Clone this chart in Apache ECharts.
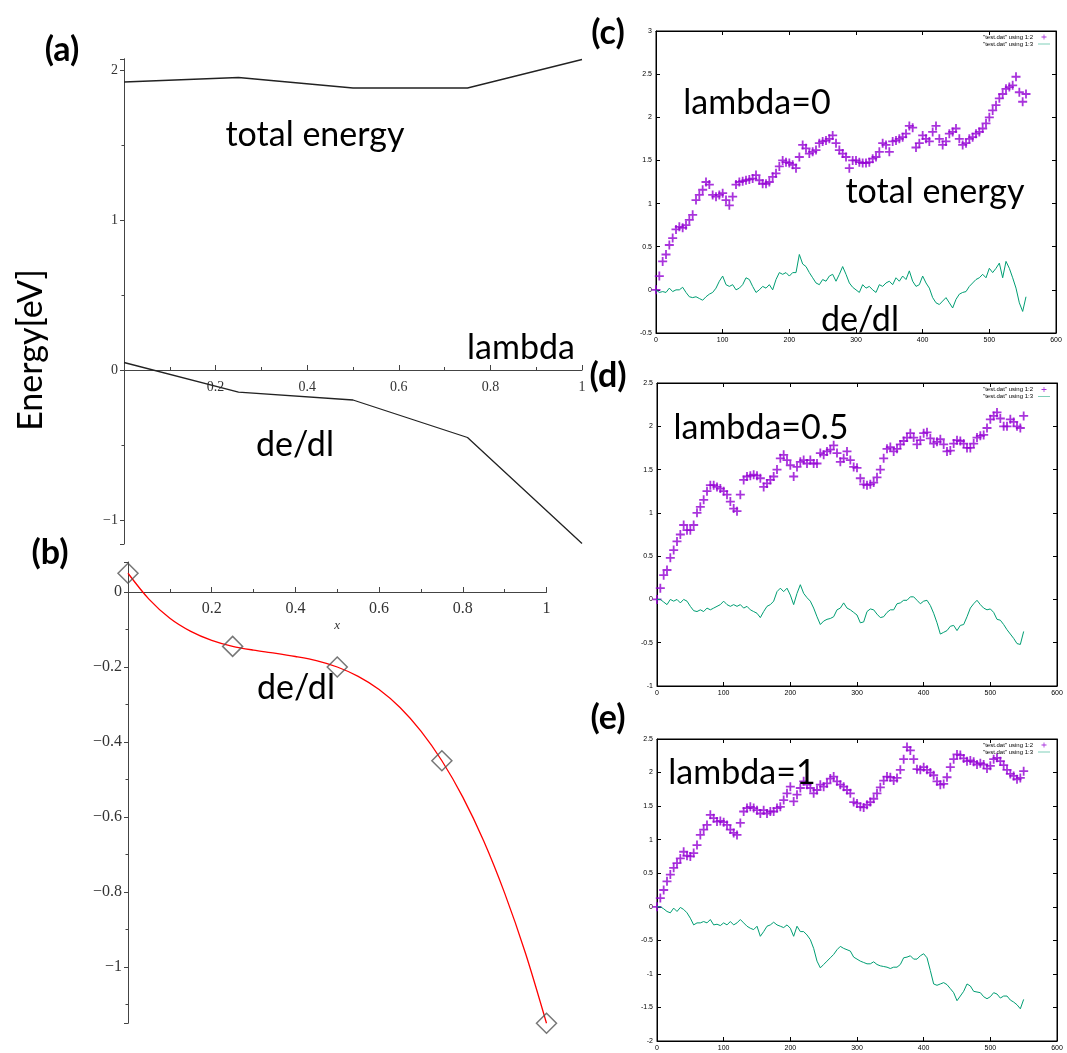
<!DOCTYPE html>
<html><head><meta charset="utf-8">
<script src="https://cdn.jsdelivr.net/npm/echarts@6/dist/echarts.min.js"></script>
<style>html,body{margin:0;padding:0;background:#fff}#c{width:1067px;height:1053px}</style>
</head><body><div id="c"></div>
<script>
// ---------- panel (a) ----------
const lambdaA = [0, 0.25, 0.5, 0.75, 1];
const totalEnergyA = [1.92, 1.95, 1.88, 1.88, 2.07];
const dedlA = [0.05, -0.147, -0.2, -0.45, -1.157];
// ---------- panel (b) ----------
const lambdaB = [0, 0.25, 0.5, 0.75, 1];
const dedlPointsB = [0.05, -0.145, -0.2, -0.45, -1.15];
const fitXB = [0,0.05,0.1,0.15,0.2,0.25,0.3,0.35,0.4,0.45,0.5,0.55,0.6,0.65,0.7,0.75,0.8,0.85,0.9,0.95,1];
const fitYB = [0.05,-0.019,-0.07,-0.105,-0.129,-0.145,-0.155,-0.163,-0.172,-0.183,-0.2,-0.225,-0.26,-0.308,-0.371,-0.45,-0.547,-0.664,-0.803,-0.964,-1.15];
// ---------- panels (c)(d)(e) ----------
const stepC = [0,5,10,15,20,25,30,35,40,45,50,55,60,65,70,75,80,85,90,95,100,105,110,115,120,125,130,135,140,145,150,155,160,165,170,175,180,185,190,195,200,205,210,215,220,225,230,235,240,245,250,255,260,265,270,275,280,285,290,295,300,305,310,315,320,325,330,335,340,345,350,355,360,365,370,375,380,385,390,395,400,405,410,415,420,425,430,435,440,445,450,455,460,465,470,475,480,485,490,495,500,505,510,515,520,525,530,535,540,545,550,555];
const totalC = [0.0,0.16,0.33,0.41,0.52,0.6,0.7,0.73,0.72,0.75,
  0.81,0.87,1.04,1.1,1.16,1.25,1.22,1.1,1.08,1.1,
  1.12,1.04,0.98,1.08,1.22,1.25,1.26,1.27,1.28,1.29,
  1.33,1.27,1.23,1.23,1.25,1.31,1.35,1.43,1.5,1.48,
  1.47,1.45,1.41,1.54,1.68,1.64,1.58,1.6,1.62,1.7,
  1.72,1.73,1.75,1.79,1.7,1.62,1.58,1.54,1.41,1.5,
  1.5,1.48,1.47,1.47,1.48,1.52,1.54,1.6,1.7,1.68,
  1.6,1.72,1.73,1.75,1.77,1.81,1.9,1.88,1.65,1.7,
  1.79,1.75,1.72,1.83,1.9,1.75,1.68,1.72,1.81,1.83,
  1.87,1.75,1.68,1.7,1.75,1.77,1.81,1.83,1.87,1.93,
  2.0,2.08,2.14,2.22,2.27,2.33,2.35,2.37,2.47,2.29,
  2.18,2.27];
const dedlC = [0,-0.03,-0.02,-0.03,0.02,-0.02,0,0,0.03,-0.03,
  -0.08,-0.09,-0.08,-0.1,-0.12,-0.08,-0.05,-0.03,0.02,0.1,
  0.16,0.06,0.04,0.06,0,0.02,0.06,0.14,0.12,0.04,
  -0.03,0,0.04,0.02,0.06,0,0.12,0.2,0.18,0.2,
  0.16,0.2,0.2,0.41,0.3,0.27,0.2,0.14,0.08,0.06,
  0.12,0.1,0.16,0.18,0.1,0.18,0.27,0.18,0.08,0.03,
  0,-0.03,0.06,0.02,0.04,0,-0.03,0.06,0.04,0.08,
  0.1,0.06,0.14,0.1,0.16,0.12,0.22,0.1,0.04,0.06,
  0.16,0.08,0.02,-0.09,-0.15,-0.17,-0.13,-0.09,-0.15,-0.21,
  -0.11,-0.05,-0.03,-0.02,0.04,0.08,0.12,0.14,0.18,0.14,
  0.25,0.2,0.25,0.31,0.14,0.33,0.25,0.14,0.02,-0.15,
  -0.25,-0.08];
const stepD = [0,5,10,15,20,25,30,35,40,45,50,55,60,65,70,75,80,85,90,95,100,105,110,115,120,125,130,135,140,145,150,155,160,165,170,175,180,185,190,195,200,205,210,215,220,225,230,235,240,245,250,255,260,265,270,275,280,285,290,295,300,305,310,315,320,325,330,335,340,345,350,355,360,365,370,375,380,385,390,395,400,405,410,415,420,425,430,435,440,445,450,455,460,465,470,475,480,485,490,495,500,505,510,515,520,525,530,535,540,545,550];
const totalD = [0,0.13,0.28,0.34,0.48,0.57,0.67,0.75,0.86,0.8,
  0.8,0.86,1.0,1.07,1.15,1.25,1.32,1.32,1.3,1.28,
  1.25,1.21,1.13,1.05,1.02,1.21,1.38,1.42,1.43,1.44,
  1.43,1.4,1.3,1.34,1.38,1.42,1.5,1.63,1.67,1.61,
  1.55,1.42,1.53,1.59,1.61,1.57,1.61,1.57,1.57,1.69,
  1.67,1.71,1.73,1.78,1.69,1.59,1.63,1.71,1.61,1.53,
  1.52,1.4,1.33,1.32,1.33,1.35,1.41,1.5,1.63,1.74,
  1.76,1.71,1.74,1.79,1.83,1.87,1.92,1.87,1.79,1.84,
  1.92,1.93,1.86,1.8,1.82,1.85,1.79,1.71,1.72,1.8,
  1.84,1.83,1.8,1.75,1.75,1.8,1.87,1.89,1.9,1.98,
  2.08,2.12,2.16,2.09,2.0,2.0,2.08,2.05,2.0,1.98,
  2.12];
const dedlD = [0,0,-0.03,-0.06,0,-0.02,0,-0.04,0,-0.02,
  -0.08,-0.13,-0.14,-0.12,-0.14,-0.1,-0.12,-0.1,-0.08,-0.06,
  -0.02,-0.06,-0.08,-0.06,-0.08,-0.06,-0.1,-0.08,-0.12,-0.14,
  -0.16,-0.21,-0.14,-0.08,-0.06,-0.02,0.09,0.13,0.09,0.13,
  0.05,-0.06,0.07,0.17,0.07,0.02,-0.02,-0.1,-0.2,-0.29,
  -0.25,-0.23,-0.22,-0.2,-0.12,-0.1,-0.04,-0.1,-0.12,-0.15,
  -0.18,-0.27,-0.26,-0.14,-0.11,-0.12,-0.17,-0.21,-0.2,-0.15,
  -0.12,-0.12,-0.05,-0.04,-0.01,-0.01,0.03,0.03,-0.01,-0.05,
  -0.02,-0.01,-0.07,-0.16,-0.27,-0.4,-0.38,-0.36,-0.31,-0.3,
  -0.36,-0.3,-0.29,-0.2,-0.1,-0.05,-0.01,-0.06,-0.1,-0.12,
  -0.11,-0.15,-0.23,-0.24,-0.29,-0.35,-0.4,-0.45,-0.51,-0.52,
  -0.37];
const stepE = [0,5,10,15,20,25,30,35,40,45,50,55,60,65,70,75,80,85,90,95,100,105,110,115,120,125,130,135,140,145,150,155,160,165,170,175,180,185,190,195,200,205,210,215,220,225,230,235,240,245,250,255,260,265,270,275,280,285,290,295,300,305,310,315,320,325,330,335,340,345,350,355,360,365,370,375,380,385,390,395,400,405,410,415,420,425,430,435,440,445,450,455,460,465,470,475,480,485,490,495,500,505,510,515,520,525,530,535,540,545,550];
const totalE = [0,0.13,0.25,0.38,0.48,0.58,0.65,0.72,0.82,0.76,
  0.75,0.8,0.92,1.07,1.15,1.22,1.37,1.32,1.27,1.28,
  1.26,1.22,1.15,1.1,1.07,1.25,1.42,1.47,1.49,1.47,
  1.44,1.39,1.44,1.39,1.42,1.42,1.47,1.49,1.59,1.69,
  1.79,1.57,1.67,1.77,1.87,1.82,1.77,1.69,1.74,1.82,
  1.79,1.84,1.91,1.94,1.87,1.82,1.79,1.74,1.69,1.56,
  1.54,1.49,1.48,1.52,1.56,1.61,1.69,1.78,1.88,1.94,
  1.93,1.88,1.92,2.04,2.2,2.38,2.33,2.2,2.05,2.04,
  2.08,2.04,2.0,1.96,1.87,1.82,1.83,1.93,2.08,2.2,
  2.27,2.26,2.21,2.17,2.18,2.16,2.12,2.14,2.12,2.06,
  2.1,2.2,2.22,2.17,2.11,2.04,1.98,1.95,1.9,1.92,
  2.02];
const dedlE = [0,0,-0.03,-0.07,-0.09,-0.02,-0.07,-0.01,-0.04,-0.09,
  -0.17,-0.27,-0.24,-0.24,-0.22,-0.24,-0.19,-0.27,-0.26,-0.28,
  -0.24,-0.27,-0.22,-0.27,-0.24,-0.19,-0.24,-0.29,-0.32,-0.34,
  -0.29,-0.44,-0.37,-0.29,-0.27,-0.23,-0.27,-0.29,-0.31,-0.27,
  -0.32,-0.44,-0.29,-0.37,-0.37,-0.42,-0.49,-0.62,-0.81,-0.91,
  -0.86,-0.81,-0.76,-0.71,-0.64,-0.59,-0.62,-0.64,-0.66,-0.75,
  -0.78,-0.81,-0.83,-0.85,-0.85,-0.82,-0.86,-0.88,-0.89,-0.9,
  -0.92,-0.9,-0.9,-0.86,-0.76,-0.75,-0.73,-0.78,-0.78,-0.73,
  -0.7,-0.76,-0.95,-1.15,-1.17,-1.15,-1.13,-1.16,-1.22,-1.28,
  -1.4,-1.33,-1.26,-1.15,-1.18,-1.26,-1.27,-1.28,-1.34,-1.37,
  -1.34,-1.28,-1.3,-1.36,-1.33,-1.33,-1.39,-1.42,-1.46,-1.52,
  -1.38];
const N12 = '"test.dat" using 1:2';
const N13 = '"test.dat" using 1:3';

const pair = (xs, ys) => ys.map((v, i) => [xs[i], v]);
const serif = 'Liberation Serif';
const sans = 'Liberation Sans';
const maple = '#444';
const minus = v => { const r = Math.round(v * 1000) / 1000; return r < 0 ? '\u2212' + Math.abs(r) : String(r); };
const plusSym = 'path://M4,0H6V4H10V6H6V10H4V6H0V4H4Z';
const plusLegend = 'path://M0,2.5L0.01,2.5M12,2.5L11.99,2.5M5.6,0H6.4V2.1H8.5V2.9H6.4V5H5.6V2.9H3.5V2.1H5.6Z';
const lineLegend = 'path://M0,0L0.01,0M0,5L0.01,5M0,2.2H12V2.8H0Z';

function mapleX(grid, fs, margin, offset, extra) {
  return Object.assign({
    gridIndex: grid, type: 'value', min: 0, max: 1, interval: 0.2, offset: offset,
    axisLine: { show: true, onZero: false, lineStyle: { color: maple, width: 1 } },
    axisTick: { show: true, inside: true, length: 5, lineStyle: { color: maple } },
    minorTick: { show: true, splitNumber: 2, length: 3, lineStyle: { color: maple } },
    splitLine: { show: false },
    axisLabel: { formatter: v => v === 0 ? '' : minus(v), margin: margin, fontFamily: serif, fontSize: fs, color: '#333' }
  }, extra || {});
}
function mapleY(grid, min, max, split, step, fs) {
  return {
    gridIndex: grid, type: 'value', min: min, max: max, splitNumber: split,
    axisLine: { show: true, onZero: false, lineStyle: { color: maple, width: 1 } },
    axisTick: { show: true, inside: false, length: 4, lineStyle: { color: maple } },
    minorTick: { show: true, splitNumber: 2, length: 2.5, lineStyle: { color: maple } },
    splitLine: { show: false },
    axisLabel: { margin: 6, fontFamily: serif, fontSize: fs, color: '#333',
      formatter: v => { const k = v / step; return Math.abs(k - Math.round(k)) < 1e-6 ? minus(v) : ''; } }
  };
}
function gx(grid, pos, labels) {
  return { gridIndex: grid, type: 'value', min: 0, max: 600, interval: 100, position: pos,
    axisLine: { show: true, onZero: false, lineStyle: { color: '#000', width: 1 } },
    axisTick: { show: true, inside: true, length: 4, lineStyle: { color: '#000' } },
    splitLine: { show: false },
    axisLabel: { show: labels, fontSize: 7, color: '#000', margin: 4, fontFamily: sans } };
}
function gy(grid, pos, min, max, labels) {
  return { gridIndex: grid, type: 'value', min: min, max: max, interval: 0.5, position: pos,
    axisLine: { show: true, onZero: false, lineStyle: { color: '#000', width: 1 } },
    axisTick: { show: true, inside: true, length: 4, lineStyle: { color: '#000' } },
    splitLine: { show: false },
    axisLabel: { show: labels, fontSize: 7, color: '#000', margin: 4, fontFamily: sans } };
}
const gbox = { show: true, borderColor: '#000', borderWidth: 1, backgroundColor: 'transparent', outerBoundsMode: 'none' };

function gnuSeries(ax, xs, tot, dd) {
  return [
    { type: 'scatter', name: N12, xAxisIndex: ax, yAxisIndex: ax, data: pair(xs, tot),
      symbol: plusSym, symbolSize: 9, itemStyle: { color: '#9400d3', opacity: 0.8 }, silent: true },
    { type: 'line', name: N13, xAxisIndex: ax, yAxisIndex: ax, data: pair(xs, dd),
      symbol: 'none', lineStyle: { color: '#009e73', width: 1 }, itemStyle: { color: '#009e73' }, silent: true }
  ];
}
function gnuLegend(top) {
  return { top: top, right: 17, orient: 'vertical', align: 'right', itemGap: 1, itemWidth: 12, itemHeight: 5,
    padding: 0, selectedMode: false, textStyle: { fontSize: 6, color: '#000', fontFamily: sans },
    data: [{ name: N12, icon: plusLegend }, { name: N13, icon: lineLegend }] };
}
function txt(text, x, y, size, bold, rot) {
  return { type: 'text', x: x, y: y, rotation: rot || 0, z: 100, silent: true,
    style: { text: text, font: (bold ? 'bold ' : '') + size + 'px Lato', fill: '#000',
      textAlign: 'center', textVerticalAlign: 'middle' } };
}

const chart = echarts.init(document.getElementById('c'));
chart.setOption({
  animation: false,
  backgroundColor: '#fff',
  grid: [
    { left: 124, top: 58.75, width: 458, height: 485.25, outerBoundsMode: 'none' },
    { left: 128, top: 562, width: 418.5, height: 461.25, outerBoundsMode: 'none' },
    Object.assign({ left: 656, top: 31, width: 400, height: 302 }, gbox),
    Object.assign({ left: 657, top: 383, width: 400, height: 303 }, gbox),
    Object.assign({ left: 657, top: 739, width: 400, height: 302 }, gbox)
  ],
  xAxis: [
    mapleX(0, 14, 10, -174),
    mapleX(1, 16, 9, -431.25, { name: 'x', nameLocation: 'middle', nameGap: 27,
      nameTextStyle: { fontFamily: serif, fontStyle: 'italic', fontSize: 13, color: '#333' } }),
    gx(2, 'bottom', true), gx(3, 'bottom', true), gx(4, 'bottom', true),
    gx(2, 'top', false), gx(3, 'top', false), gx(4, 'top', false)
  ],
  yAxis: [
    mapleY(0, -1.16, 2.075, 3, 1, 14),
    mapleY(1, -1.15, 0.08, 5, 0.2, 16),
    gy(2, 'left', -0.5, 3, true), gy(3, 'left', -1, 2.5, true), gy(4, 'left', -2, 2.5, true),
    gy(2, 'right', -0.5, 3, false), gy(3, 'right', -1, 2.5, false), gy(4, 'right', -2, 2.5, false)
  ],
  legend: [gnuLegend(34), gnuLegend(386.5), gnuLegend(742)],
  series: [
    { type: 'line', xAxisIndex: 0, yAxisIndex: 0, data: pair(lambdaA, totalEnergyA), symbol: 'none',
      lineStyle: { color: '#222', width: 1.3 }, silent: true },
    { type: 'line', xAxisIndex: 0, yAxisIndex: 0, data: pair(lambdaA, dedlA), symbol: 'none',
      lineStyle: { color: '#222', width: 1.3 }, silent: true },
    { type: 'line', xAxisIndex: 1, yAxisIndex: 1, data: pair(fitXB, fitYB), symbol: 'none', smooth: 0.3,
      lineStyle: { color: '#ff0000', width: 1.3 }, silent: true },
    { type: 'scatter', xAxisIndex: 1, yAxisIndex: 1, data: pair(lambdaB, dedlPointsB), symbol: 'diamond',
      symbolSize: 20, z: 5, itemStyle: { color: 'rgba(0,0,0,0)', borderColor: '#555', borderWidth: 1.5 }, silent: true }
  ].concat(gnuSeries(2, stepC, totalC, dedlC), gnuSeries(3, stepD, totalD, dedlD), gnuSeries(4, stepE, totalE, dedlE)),
  graphic: { elements: [
    txt('(a)', 62, 50, 34, true),
    txt('(b)', 50, 553, 34, true),
    txt('(c)', 608, 33, 34, true),
    txt('(d)', 608, 376, 34, true),
    txt('(e)', 608, 718, 34, true),
    txt('Energy[eV]', 31, 350, 34, false, Math.PI / 2),
    txt('total energy', 315, 135, 34, false),
    txt('lambda', 521, 348, 34, false),
    txt('de/dl', 295, 445, 34, false),
    txt('de/dl', 296, 688, 34, false),
    txt('lambda=0', 757, 103, 34, false),
    txt('total energy', 935, 192, 34, false),
    txt('de/dl', 860, 320, 34, false),
    txt('lambda=0.5', 761, 428, 34, false),
    txt('lambda=1', 742, 773, 34, false)
  ] }
});
</script></body></html>
